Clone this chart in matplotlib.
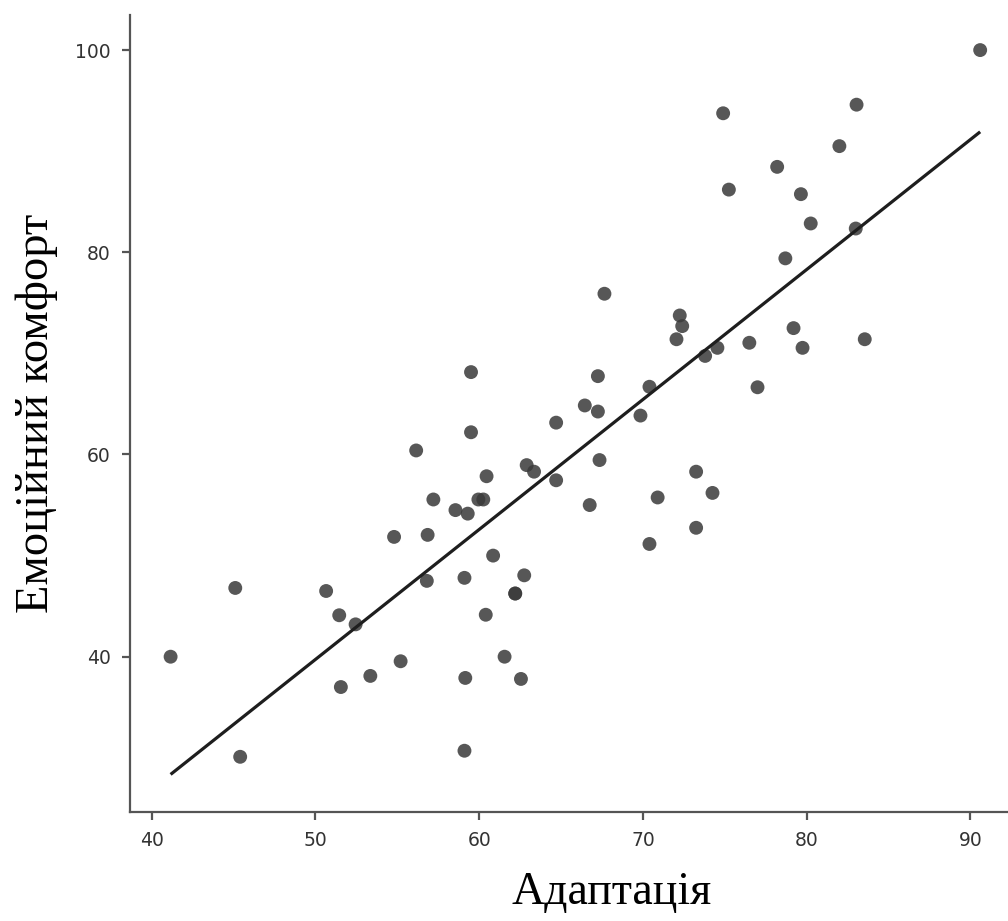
import numpy as np
import matplotlib
matplotlib.use("Agg")
import matplotlib.pyplot as plt

# Data
adaptation = [41.15, 45.1, 45.4, 50.65, 51.45, 51.55, 52.45, 53.35, 54.8, 55.2,
              56.15, 56.85, 56.8, 57.2, 58.55, 59.3, 59.5, 59.5, 59.1, 59.15,
              59.1, 59.95, 60.25, 60.45, 60.4, 60.85, 61.55, 62.2, 62.2, 62.75,
              62.55, 62.9, 63.35, 64.7, 64.7, 66.45, 66.75, 67.25, 67.25, 67.35,
              67.65, 69.85, 70.4, 70.4, 70.9, 72.05, 72.25, 72.4, 73.25, 73.25,
              73.8, 74.25, 74.55, 74.9, 75.25, 76.5, 77.0, 78.2, 78.7, 79.2,
              79.65, 79.75, 80.25, 82.0, 83.05, 83.0, 83.55, 90.6]
comfort = [40.0, 46.8, 30.1, 46.5, 44.1, 37.0, 43.2, 38.1, 51.85, 39.55,
           60.4, 52.05, 47.5, 55.55, 54.5, 54.15, 68.15, 62.2, 47.8, 37.9,
           30.7, 55.55, 55.55, 57.85, 44.15, 50.0, 40.0, 46.25, 46.25, 48.05,
           37.8, 58.95, 58.3, 63.15, 57.45, 64.85, 55.0, 67.75, 64.25, 59.45,
           75.9, 63.85, 66.7, 51.15, 55.75, 71.4, 73.75, 72.7, 58.3, 52.75,
           69.75, 56.2, 70.55, 93.75, 86.2, 71.05, 66.65, 88.45, 79.4, 72.5,
           85.75, 70.55, 82.85, 90.5, 94.6, 82.35, 71.4, 100.0]

x_ticks = [40, 50, 60, 70, 80, 90]
y_ticks = [40, 60, 80, 100]
x_label = "Адаптація"
y_label = "Емоційний комфорт"

x = np.array(adaptation)
y = np.array(comfort)

fig = plt.figure(figsize=(10.08, 9.21), dpi=100)
ax = fig.add_axes([130/1008, (921-811.7)/921, 1-130/1008, (811.7-15)/921])

ax.scatter(x, y, s=100, color="#3a3a3a", alpha=0.85, edgecolors="none", zorder=2)

slope, intercept = np.polyfit(x, y, 1)
xs = np.array([x.min(), x.max()])
ax.plot(xs, slope*xs + intercept, color="#1e1e1e", lw=2.3, zorder=3,
        solid_capstyle="butt")

ax.set_xlim(38.67, 92.3)
ax.set_ylim(24.67, 103.47)
ax.set_xticks(x_ticks)
ax.set_yticks(y_ticks)

for s in ["top", "right"]:
    ax.spines[s].set_visible(False)
for s in ["left", "bottom"]:
    ax.spines[s].set_color("#555555")
    ax.spines[s].set_linewidth(1.6)

ax.tick_params(axis="both", length=5.5, width=1.6, color="#555555",
               labelsize=13.5, labelcolor="#333333", pad=8.5)
for lab in ax.get_xticklabels() + ax.get_yticklabels():
    lab.set_fontfamily("DejaVu Sans")

fig.text(612/1008, 1-893/921, x_label, ha="center", va="center",
         fontsize=33, family="Liberation Serif", color="black")
fig.text(37/1008, 1-413/921, y_label, ha="center", va="center", rotation=90,
         fontsize=33.5, family="Liberation Serif", color="black")

fig.savefig("out.png", dpi=100)
